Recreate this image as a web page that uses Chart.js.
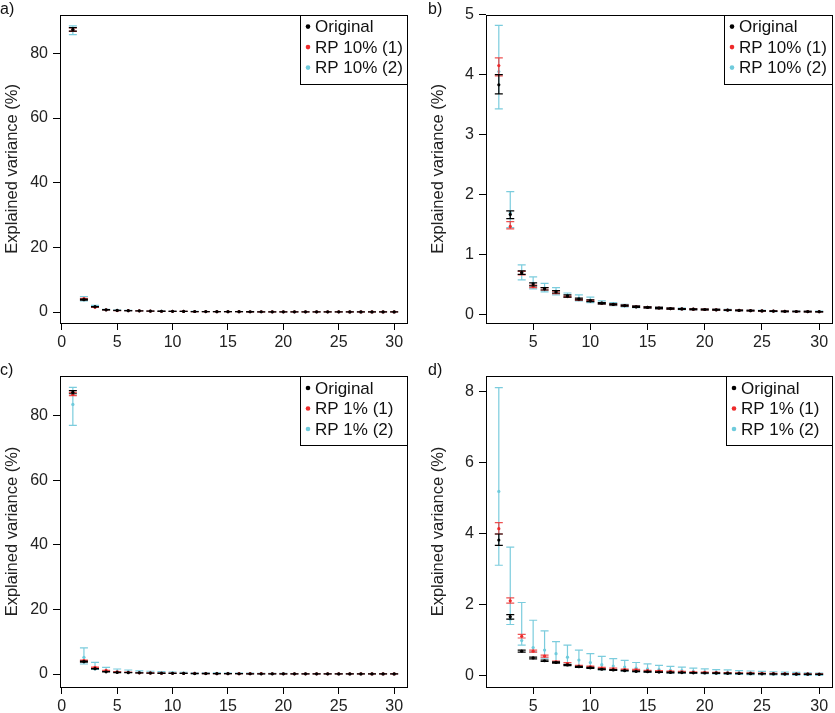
<!DOCTYPE html>
<html><head><meta charset="utf-8">
<script src="https://cdn.jsdelivr.net/npm/chart.js@4/dist/chart.umd.min.js"></script>
<style>body{margin:0;background:#fff;}canvas{position:absolute;left:0;top:0;}</style>
</head><body>
<canvas id="c0"></canvas><canvas id="c1"></canvas><canvas id="c2"></canvas><canvas id="c3"></canvas>
<script>
// components 2..30
const comps = [2,3,4,5,6,7,8,9,10,11,12,13,14,15,16,17,18,19,20,21,22,23,24,25,26,27,28,29,30];
const origMean = [3.83,1.67,0.70,0.51,0.43,0.38,0.31,0.26,0.23,0.19,0.17,0.15,0.13,0.12,0.11,0.10,0.095,0.09,0.085,0.08,0.075,0.07,0.066,0.062,0.058,0.055,0.052,0.05,0.048];
const origLo   = [3.68,1.60,0.67,0.48,0.41,0.36,0.29,0.245,0.215,0.18,0.16,0.14,0.12,0.11,0.10,0.09,0.088,0.083,0.078,0.073,0.069,0.064,0.06,0.057,0.053,0.05,0.048,0.046,0.044];
const origHi   = [4.00,1.73,0.73,0.53,0.45,0.40,0.33,0.275,0.245,0.20,0.18,0.16,0.14,0.13,0.12,0.11,0.102,0.097,0.092,0.087,0.081,0.076,0.072,0.067,0.063,0.06,0.056,0.054,0.052];
const rp10aMean = [4.15,1.47,0.69,0.47,0.43,0.37,0.30,0.25,0.23,0.19,0.17,0.15,0.13,0.12,0.11,0.10,0.095,0.09,0.085,0.08,0.075,0.07,0.066,0.062,0.058,0.055,0.052,0.05,0.048];
const rp10aLo   = [3.98,1.43,0.66,0.45,0.41,0.35,0.29,0.24,0.22,0.18,0.16,0.14,0.12,0.11,0.10,0.09,0.088,0.083,0.078,0.073,0.069,0.064,0.06,0.057,0.053,0.05,0.048,0.046,0.044];
const rp10aHi   = [4.28,1.55,0.72,0.49,0.45,0.39,0.31,0.26,0.24,0.20,0.18,0.16,0.14,0.13,0.12,0.11,0.102,0.097,0.092,0.087,0.081,0.076,0.072,0.067,0.063,0.06,0.056,0.054,0.052];
const rp10bMean = [4.05,1.70,0.70,0.52,0.44,0.39,0.32,0.27,0.24,0.20,0.17,0.15,0.13,0.12,0.11,0.10,0.095,0.09,0.085,0.08,0.075,0.07,0.066,0.062,0.058,0.055,0.052,0.05,0.048];
const rp10bLo   = [3.43,1.45,0.58,0.43,0.38,0.33,0.29,0.23,0.20,0.17,0.15,0.13,0.115,0.105,0.095,0.088,0.083,0.078,0.073,0.069,0.064,0.06,0.056,0.052,0.049,0.046,0.043,0.041,0.039];
const rp10bHi   = [4.82,2.05,0.83,0.63,0.52,0.45,0.36,0.33,0.29,0.23,0.20,0.17,0.15,0.135,0.125,0.115,0.108,0.102,0.097,0.091,0.086,0.08,0.076,0.072,0.067,0.064,0.061,0.059,0.057];
const rp1aMean = [4.15,2.12,1.12,0.70,0.56,0.40,0.35,0.28,0.26,0.22,0.20,0.18,0.17,0.15,0.14,0.13,0.12,0.11,0.10,0.095,0.09,0.085,0.08,0.075,0.07,0.065,0.06,0.058,0.055];
const rp1aLo   = [4.00,2.05,1.07,0.67,0.53,0.38,0.32,0.26,0.24,0.20,0.18,0.165,0.155,0.14,0.13,0.12,0.11,0.10,0.092,0.087,0.082,0.078,0.073,0.068,0.064,0.06,0.055,0.053,0.05];
const rp1aHi   = [4.32,2.20,1.17,0.73,0.59,0.42,0.38,0.30,0.28,0.24,0.22,0.195,0.185,0.16,0.15,0.14,0.13,0.12,0.108,0.103,0.098,0.092,0.087,0.082,0.076,0.07,0.065,0.063,0.06];
const rp1bMean = [5.20,1.60,1.00,0.80,0.73,0.63,0.53,0.45,0.38,0.32,0.28,0.25,0.22,0.20,0.18,0.16,0.15,0.13,0.12,0.11,0.10,0.09,0.085,0.08,0.075,0.07,0.065,0.06,0.055];
const rp1bLo   = [3.12,1.45,0.87,0.68,0.50,0.38,0.30,0.25,0.22,0.18,0.16,0.14,0.12,0.11,0.10,0.09,0.08,0.07,0.065,0.06,0.05,0.045,0.04,0.035,0.03,0.03,0.025,0.02,0.02];
const rp1bHi   = [8.12,3.63,2.07,1.57,1.27,0.97,0.87,0.73,0.63,0.55,0.49,0.44,0.38,0.34,0.30,0.27,0.25,0.22,0.20,0.18,0.17,0.15,0.14,0.13,0.12,0.11,0.10,0.09,0.085];
// component 1 (panels a and c): [mean, lo, hi]
const c1Orig = [87.4,86.9,88.0];
const c1RP10a = [87.3,86.8,87.9];
const c1RP10b = [87.0,85.8,88.5];
const c1OrigC = [87.3,86.8,87.8];
const c1RP1a = [86.6,86.2,87.2];
const c1RP1b = [83.5,77.0,88.8];
const xTicksFull = [0,5,10,15,20,25,30];
const xTicksPart = [5,10,15,20,25,30];

const RED='#ee2a2a', CYAN='#6fcbdc', CYANBAR='rgba(100,195,215,0.85)', REDBAR='rgba(235,50,50,0.85)';
const FONT='"Liberation Sans", Arial, sans-serif';

function mk(withFirst, first, mean, lo, hi){
  const d=[];
  if(withFirst) d.push({x:1,y:first[0],lo:first[1],hi:first[2]});
  comps.forEach((c,i)=>d.push({x:c,y:mean[i],lo:lo[i],hi:hi[i]}));
  return d;
}

const errPlugin={id:'err',
  afterDatasetsDraw(chart,args,opts){
    const ctx=chart.ctx, xs=chart.scales.x, ys=chart.scales.y, a=chart.chartArea;
    ctx.save();
    chart.data.datasets.forEach(ds=>{
      ctx.strokeStyle=ds.barColor; ctx.lineWidth=1.2;
      ds.data.forEach(p=>{
        const x=xs.getPixelForValue(p.x), y1=ys.getPixelForValue(p.lo), y2=ys.getPixelForValue(p.hi);
        ctx.beginPath();
        ctx.moveTo(x,y1);ctx.lineTo(x,y2);
        ctx.moveTo(x-4,y1);ctx.lineTo(x+4,y1);
        ctx.moveTo(x-4,y2);ctx.lineTo(x+4,y2);
        ctx.stroke();
      });
      ctx.fillStyle=ds.pointBackgroundColor;
      ds.data.forEach(p=>{
        ctx.beginPath();ctx.arc(xs.getPixelForValue(p.x),ys.getPixelForValue(p.y),1.6,0,Math.PI*2);ctx.fill();
      });
    });
    ctx.strokeStyle='#000';ctx.lineWidth=1;
    ctx.strokeRect(Math.round(a.left)+0.5,Math.round(a.top)+0.5,Math.round(a.right-a.left),Math.round(a.bottom-a.top));
    const L=opts.legend;
    ctx.fillStyle='#fff';ctx.fillRect(L.x,a.top,a.right-L.x,L.h);
    ctx.strokeRect(L.x+0.5,Math.round(a.top)+0.5,Math.round(a.right-L.x),L.h);
    ctx.font='17px '+FONT;ctx.textBaseline='middle';
    [2,1,0].forEach((di,k)=>{
      const ds=chart.data.datasets[di];
      const yy=a.top+12+k*20.5;
      ctx.fillStyle=ds.pointBackgroundColor;
      ctx.beginPath();ctx.arc(L.x+8,yy,2.3,0,Math.PI*2);ctx.fill();
      ctx.fillStyle='#111';ctx.textAlign='left';ctx.fillText(ds.label,L.x+15,yy+1);
    });
    ctx.save();ctx.translate(opts.titleX,(a.top+a.bottom)/2);ctx.rotate(-Math.PI/2);
    ctx.textAlign='center';ctx.fillStyle='#222';ctx.font='16.5px '+FONT;
    ctx.fillText('Explained variance (%)',0,0);ctx.restore();
    ctx.textAlign='left';ctx.textBaseline='top';ctx.fillStyle='#111';ctx.font='16px '+FONT;
    ctx.fillText(opts.letter,opts.letterX,a.top-13);
    ctx.restore();
  }
};

function panel(id, box, xr, yr, yStep, xTicks, datasets, legendX, letter, letterX, titleX){
  const W=835,H=713, yw=50, xh=35;
  const c=document.getElementById(id); c.width=W; c.height=H;
  new Chart(c,{
    type:'scatter',
    data:{datasets},
    options:{
      responsive:false, animation:false, devicePixelRatio:1,
      layout:{padding:{left:box[0]-yw,top:box[1],right:W-box[2],bottom:H-box[3]-xh}},
      plugins:{legend:{display:false},tooltip:{enabled:false},
        err:{legend:{x:legendX,h:69},letter,letterX,titleX}},
      elements:{point:{radius:0}},
      scales:{
        x:{type:'linear',min:xr[0],max:xr[1],
          afterBuildTicks:s=>{s.ticks=xTicks.map(v=>({value:v}));},
          afterFit:s=>{s.height=xh;},
          border:{display:false},
          grid:{drawOnChartArea:false,drawTicks:true,tickLength:7,color:'#000',tickColor:'#000'},
          ticks:{color:'#222',font:{size:16,family:FONT},padding:3,maxRotation:0}},
        y:{type:'linear',min:yr[0],max:yr[1],
          afterBuildTicks:s=>{const t=[];for(let v=0;v<=yr[1]+1e-9;v+=yStep)t.push({value:v});s.ticks=t;},
          afterFit:s=>{s.width=yw;},
          border:{display:false},
          grid:{drawOnChartArea:false,drawTicks:true,tickLength:7,color:'#000',tickColor:'#000'},
          ticks:{color:'#222',font:{size:16,family:FONT},padding:5}}
      }
    },
    plugins:[errPlugin]
  });
  c.style.pointerEvents='none';
}
function ds(label,color,bar,data){return {label,data,pointBackgroundColor:color,barColor:bar,pointRadius:0};}

panel('c0',[60,13,407,323],[-0.16,31.16],[-3.38,92],20,xTicksFull,[
  ds('RP 10% (2)',CYAN,CYANBAR,mk(true,c1RP10b,rp10bMean,rp10bLo,rp10bHi)),
  ds('RP 10% (1)',RED,REDBAR,mk(true,c1RP10a,rp10aMean,rp10aLo,rp10aHi)),
  ds('Original','#000','#000',mk(true,c1Orig,origMean,origLo,origHi))],300,'a)',0,12);
panel('c1',[486,13,832,323],[0.88,31.12],[-0.14,5.0],1,xTicksPart,[
  ds('RP 10% (2)',CYAN,CYANBAR,mk(false,null,rp10bMean,rp10bLo,rp10bHi)),
  ds('RP 10% (1)',RED,REDBAR,mk(false,null,rp10aMean,rp10aLo,rp10aHi)),
  ds('Original','#000','#000',mk(false,null,origMean,origLo,origHi))],724,'b)',428,438);
panel('c2',[60,376,407,687],[-0.16,31.16],[-4,92.3],20,xTicksFull,[
  ds('RP 1% (2)',CYAN,CYANBAR,mk(true,c1RP1b,rp1bMean,rp1bLo,rp1bHi)),
  ds('RP 1% (1)',RED,REDBAR,mk(true,c1RP1a,rp1aMean,rp1aLo,rp1aHi)),
  ds('Original','#000','#000',mk(true,c1OrigC,origMean,origLo,origHi))],300,'c)',0,12);
panel('c3',[486,376,832,687],[0.88,31.12],[-0.31,8.45],2,xTicksPart,[
  ds('RP 1% (2)',CYAN,CYANBAR,mk(false,null,rp1bMean,rp1bLo,rp1bHi)),
  ds('RP 1% (1)',RED,REDBAR,mk(false,null,rp1aMean,rp1aLo,rp1aHi)),
  ds('Original','#000','#000',mk(false,null,origMean,origLo,origHi))],726,'d)',428,438);
</script>
</body></html>
